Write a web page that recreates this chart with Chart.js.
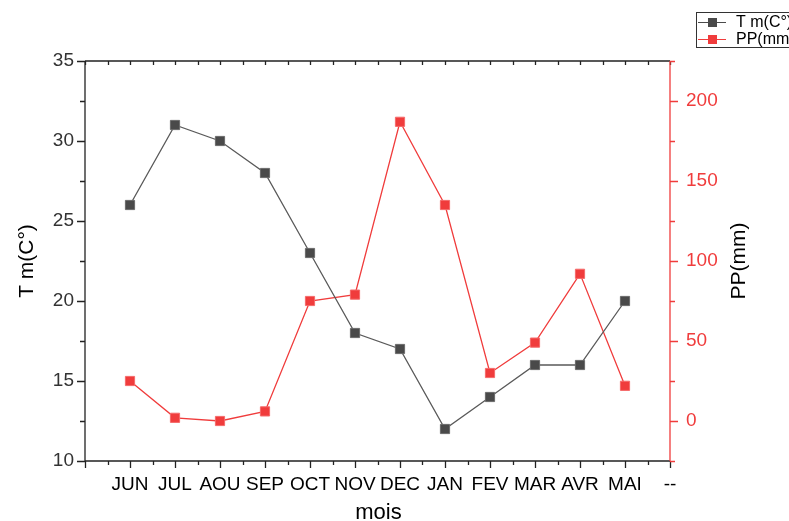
<!DOCTYPE html>
<html>
<head>
<meta charset="utf-8">
<script src="https://cdn.jsdelivr.net/npm/chart.js@4.4.1/dist/chart.umd.min.js"></script>
<style>
  html, body { margin: 0; padding: 0; background: #fff; }
  #wrap { width: 789px; height: 521px; position: relative; }
</style>
</head>
<body>
<div id="wrap"><canvas id="myChart"></canvas></div>
<script>
  // data
  const months = ['', 'JUN', 'JUL', 'AOU', 'SEP', 'OCT', 'NOV', 'DEC', 'JAN', 'FEV', 'MAR', 'AVR', 'MAI', '--']
  const tempValues = [null, 26, 31, 30, 28, 23, 18, 17, 12, 14, 16, 16, 20, null]
  const rainValues = [null, 25, 2, 0, 6, 75, 79, 187, 135, 30, 49, 92, 22, null]
  const tempTicks = [10, 15, 20, 25, 30, 35]
  const rainTicks = [0, 50, 100, 150, 200]

  const FONT = 'Arial, "Liberation Sans", sans-serif'
  const GREY = '#4a4a4a'
  const RED = '#f03c3c'

  // axes frame, major/minor ticks, titles and legend
  const framePlugin = {
    id: 'frame',
    afterDraw(chart) {
      const c = chart.ctx
      const a = chart.chartArea
      const x = chart.scales.x
      const y = chart.scales.y
      const y1 = chart.scales.y1
      c.save()
      c.lineWidth = 1.3
      c.strokeStyle = '#222'
      c.beginPath()
      c.moveTo(a.left, a.top); c.lineTo(a.right, a.top)
      c.moveTo(a.left, a.top); c.lineTo(a.left, a.bottom)
      c.moveTo(a.left, a.bottom); c.lineTo(a.right, a.bottom)
      // left ticks
      for (let v = 10; v <= 35; v += 2.5) {
        const p = Math.round(y.getPixelForValue(v)) + 0.5
        const len = v % 5 === 0 ? 8 : 5
        c.moveTo(a.left - len, p); c.lineTo(a.left, p)
      }
      // bottom / top ticks
      for (let i = 0; i <= months.length - 1; i += 0.5) {
        const p = Math.round(x.getPixelForValue(i)) + 0.5
        const len = Number.isInteger(i) ? 7 : 4
        c.moveTo(p, a.bottom); c.lineTo(p, a.bottom + len)
        c.moveTo(p, a.top); c.lineTo(p, a.top + 4)
      }
      c.stroke()
      // right axis
      c.strokeStyle = RED
      c.beginPath()
      c.moveTo(a.right, a.top); c.lineTo(a.right, a.bottom)
      for (let v = -25; v <= 225; v += 25) {
        const p = Math.round(y1.getPixelForValue(v)) + 0.5
        const len = v % 50 === 0 ? 8 : 5
        c.moveTo(a.right, p); c.lineTo(a.right + len, p)
      }
      c.stroke()

      // axis titles
      c.fillStyle = '#000'
      c.textAlign = 'center'
      c.font = '22px ' + FONT
      c.textBaseline = 'alphabetic'
      c.fillText('mois', (a.left + a.right) / 2 + 1, 519)

      c.save()
      c.translate(739, (a.top + a.bottom) / 2)
      c.rotate(-Math.PI / 2)
      c.font = '21px ' + FONT
      c.textBaseline = 'middle'
      c.fillText('PP(mm)', 0, 0)
      c.restore()

      // legend
      c.textAlign = 'left'
      c.lineWidth = 1
      c.strokeStyle = '#333'
      c.strokeRect(696.5, 12.5, 120, 35)
      const rows = [
        { y: 22, color: GREY, text: 'T m(C°)' },
        { y: 39, color: RED, text: 'PP(mm)' },
      ]
      c.font = '16px ' + FONT
      c.textBaseline = 'middle'
      rows.forEach(r => {
        c.strokeStyle = r.color
        c.beginPath()
        c.moveTo(698, r.y + 0.5); c.lineTo(726, r.y + 0.5)
        c.stroke()
        c.fillStyle = r.color
        c.fillRect(708, r.y - 4, 9, 9)
        c.fillStyle = '#000'
        c.fillText(r.text, 736, r.y + 1)
      })
      c.restore()
    }
  }

  const ctx = document.getElementById('myChart')

  // eslint-disable-next-line no-unused-vars
  const myChart = new Chart(ctx, {
    type: 'line',
    plugins: [framePlugin],
    data: {
      labels: months,
      datasets: [{
        label: 'T m(C°)',
        data: tempValues,
        yAxisID: 'y',
        lineTension: 0,
        borderColor: '#5a5a5a',
        borderWidth: 1.3,
        backgroundColor: GREY,
        pointStyle: 'rect',
        pointRadius: 6.5,
        pointBorderWidth: 1,
        pointBorderColor: '#6a6a6a',
        pointBackgroundColor: GREY,
      }, {
        label: 'PP(mm)',
        data: rainValues,
        yAxisID: 'y1',
        lineTension: 0,
        borderColor: RED,
        borderWidth: 1.3,
        backgroundColor: RED,
        pointStyle: 'rect',
        pointRadius: 6.5,
        pointBorderWidth: 1,
        pointBorderColor: '#f56a6a',
        pointBackgroundColor: RED,
      }]
    },
    options: {
      responsive: true,
      maintainAspectRatio: false,
      animation: false,
      layout: { padding: { top: 61, left: 0, right: 0, bottom: 0 } },
      plugins: {
        legend: { display: false },
        tooltip: { enabled: false },
      },
      scales: {
        x: {
          offset: false,
          grid: { display: false, drawTicks: false },
          border: { display: false },
          ticks: {
            autoSkip: false,
            maxRotation: 0,
            padding: 12,
            color: '#000',
            font: { family: FONT, size: 19 },
          },
          afterFit(scale) { scale.height = 60 },
        },
        y: {
          position: 'left',
          min: 10,
          max: 35,
          afterBuildTicks(scale) { scale.ticks = tempTicks.map(v => ({ value: v })) },
          grid: { display: false, drawTicks: false },
          border: { display: false },
          ticks: {
            padding: 11,
            color: '#333',
            font: { family: FONT, size: 19 },
          },
          title: {
            display: true,
            text: 'T m(C°)',
            color: '#000',
            font: { family: FONT, size: 21, lineHeight: 1 },
            padding: { top: 17, bottom: 0 },
          },
          afterFit(scale) { scale.width = 85 },
        },
        y1: {
          position: 'right',
          min: -25,
          max: 225,
          afterBuildTicks(scale) { scale.ticks = rainTicks.map(v => ({ value: v })) },
          grid: { display: false, drawTicks: false },
          border: { display: false },
          ticks: {
            padding: 16,
            color: RED,
            font: { family: FONT, size: 19 },
          },
          afterFit(scale) { scale.width = 119 },
        },
      },
    }
  })
</script>
</body>
</html>
